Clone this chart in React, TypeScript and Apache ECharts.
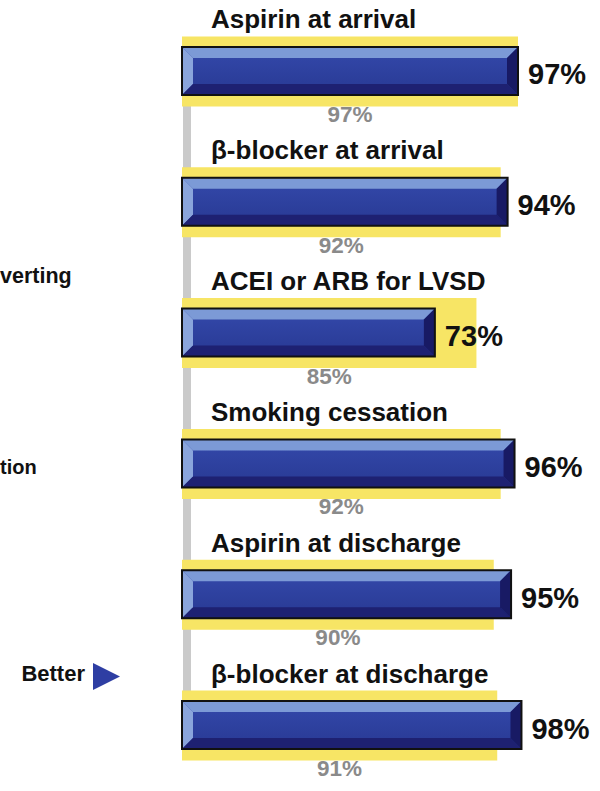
import React, { useEffect, useRef } from "react";
import * as echarts from "echarts";

const categories = [
  "Aspirin at arrival",
  "β-blocker at arrival",
  "ACEI or ARB for LVSD",
  "Smoking cessation",
  "Aspirin at discharge",
  "β-blocker at discharge",
];
const hospitalRates = [97, 94, 73, 96, 95, 98];
const benchmarkRates = [97, 92, 85, 92, 90, 91];
const sideLabels = ["verting", "tion", "Better"];
const axisMin = 0;
const axisMax = 100;

const FONT = '"Liberation Sans", Arial, Helvetica, sans-serif';

export default function App() {
  const ref = useRef<HTMLDivElement>(null);

  useEffect(() => {
    if (!ref.current) return;
    const chart = echarts.init(ref.current, null, { renderer: "svg" });

    const faceGradient = new echarts.graphic.LinearGradient(0, 0, 0, 1, [
      { offset: 0, color: "#3449ab" },
      { offset: 1, color: "#283993" },
    ]);

    const sideText = (text: string, x: number, y: number, size: number, align: string) => ({
      type: "text",
      x,
      y,
      style: {
        text,
        align,
        verticalAlign: "middle",
        fontSize: size,
        fontWeight: "bold",
        fontFamily: FONT,
        fill: "#111",
      },
    });

    const option = {
      animation: false,
      backgroundColor: "#ffffff",
      grid: { left: 182, top: 6, width: 346.4, height: 804, containLabel: false },
      xAxis: { type: "value", min: axisMin, max: axisMax, show: false },
      yAxis: { type: "category", data: categories, inverse: true, show: false },
      graphic: [
        sideText(sideLabels[0], 0, 275.5, 21.5, "left"),
        sideText(sideLabels[1], 0, 466.5, 20, "left"),
        sideText(sideLabels[2], 85, 673.5, 22, "right"),
        {
          type: "polygon",
          shape: { points: [[93, 663], [120, 676.5], [93, 690]] },
          style: { fill: "#2e3ea3" },
        },
      ],
      series: [
        {
          type: "custom",
          name: "connector",
          z: 1,
          encode: { x: 0, y: 1 },
          data: categories.map((_, i) => [0, i]),
          renderItem: (params: any, api: any) => {
            const i = api.value(1);
            if (i === 0) return null;
            const a = api.coord([0, i - 1]);
            const b = api.coord([0, i]);
            return {
              type: "rect",
              shape: { x: a[0] + 1, y: a[1], width: 8, height: b[1] - a[1] },
              style: { fill: "#cacaca" },
            };
          },
        },
        {
          type: "bar",
          name: "benchmark",
          z: 2,
          data: benchmarkRates,
          barWidth: 70,
          itemStyle: { color: "#f7e565" },
          label: {
            show: true,
            position: "bottom",
            distance: -3.5,
            formatter: "{c}%",
            color: "#8a8a8a",
            fontSize: 22.5,
            fontWeight: "bold",
            fontFamily: FONT,
          },
        },
        {
          type: "custom",
          name: "hospital",
          z: 3,
          encode: { x: 0, y: 1 },
          data: hospitalRates.map((v, i) => [v, i]),
          renderItem: (params: any, api: any) => {
            const v = api.value(0);
            const i = api.value(1);
            const s = api.coord([0, i]);
            const e = api.coord([v, i]);
            const x0 = s[0];
            const x1 = e[0];
            const yc = s[1];
            const y0 = yc - 24.5;
            const y1 = yc + 23.5;
            const b = 11;
            return {
              type: "group",
              children: [
                {
                  type: "rect",
                  shape: { x: x0, y: y0, width: x1 - x0, height: y1 - y0 },
                  style: { fill: faceGradient },
                },
                {
                  type: "polygon",
                  shape: { points: [[x0, y0], [x1, y0], [x1 - b, y0 + b], [x0 + b, y0 + b]] },
                  style: { fill: "#7c9ad6" },
                },
                {
                  type: "polygon",
                  shape: { points: [[x0, y0], [x0 + b, y0 + b], [x0 + b, y1 - b], [x0, y1]] },
                  style: { fill: "#8aa5dc" },
                },
                {
                  type: "polygon",
                  shape: { points: [[x0, y1], [x0 + b, y1 - b], [x1 - b, y1 - b], [x1, y1]] },
                  style: { fill: "#1e2172" },
                },
                {
                  type: "polygon",
                  shape: { points: [[x1, y0], [x1, y1], [x1 - b, y1 - b], [x1 - b, y0 + b]] },
                  style: { fill: "#181a64" },
                },
                {
                  type: "rect",
                  shape: { x: x0, y: y0, width: x1 - x0, height: y1 - y0 },
                  style: { fill: "none", stroke: "#111111", lineWidth: 2 },
                },
                {
                  type: "text",
                  x: x0 + 29,
                  y: yc - 52,
                  style: {
                    text: categories[i],
                    align: "left",
                    verticalAlign: "middle",
                    fontSize: 26,
                    fontWeight: "bold",
                    fontFamily: FONT,
                    fill: "#111111",
                  },
                },
                {
                  type: "text",
                  x: x1 + 10,
                  y: yc + 3,
                  style: {
                    text: v + "%",
                    align: "left",
                    verticalAlign: "middle",
                    fontSize: 29,
                    fontWeight: "bold",
                    fontFamily: FONT,
                    fill: "#111111",
                  },
                },
              ],
            };
          },
        },
      ],
    };

    chart.setOption(option as any);
    return () => {
      chart.dispose();
    };
  }, []);

  return (
    <div
      ref={ref}
      style={{ position: "fixed", left: 0, top: 0, width: 600, height: 791, background: "#fff" }}
    />
  );
}
